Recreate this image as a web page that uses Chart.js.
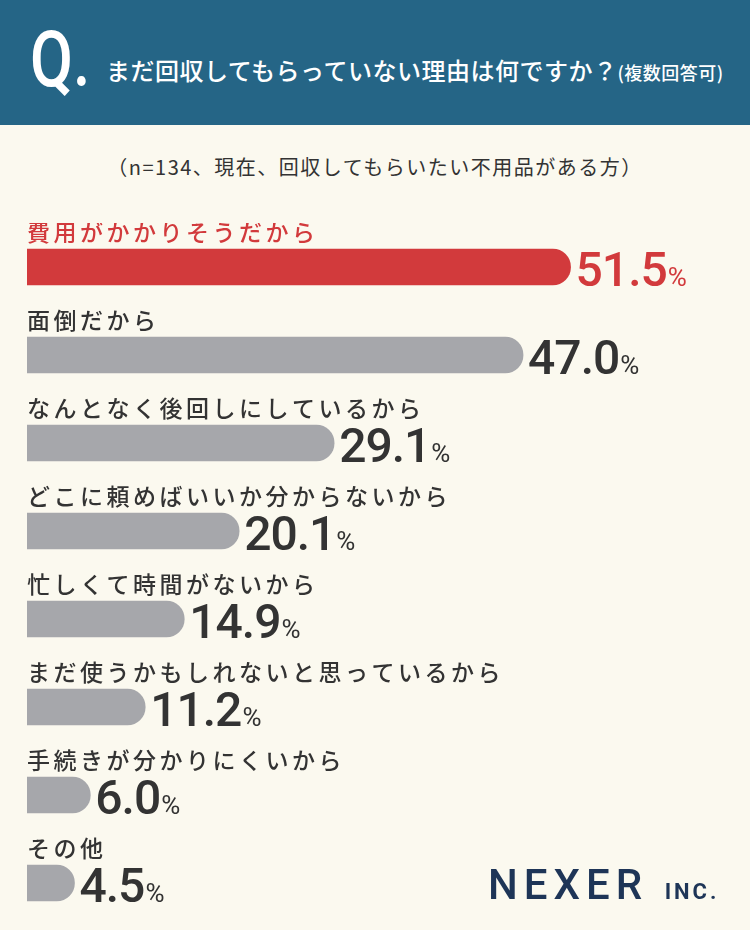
<!DOCTYPE html>
<html><head><meta charset="utf-8">
<script src="https://cdn.jsdelivr.net/npm/chart.js@4"></script>
<style>
body{margin:0;width:750px;height:930px;background:#fbf9ef;position:relative;overflow:hidden;font-family:"Noto Sans CJK JP",sans-serif}
#head{position:absolute;left:0;top:0;width:750px;height:125px;background:#256586;color:#fff}
#q{position:absolute;left:30px;top:14px;font:500 78px "Roboto",sans-serif;transform:scaleX(0.8);transform-origin:left}
#qt{position:absolute;left:106px;top:52px;font-size:24px;font-weight:500;letter-spacing:0.5px}
#qt small{font-size:18px}
#sub{position:absolute;left:0;width:750px;top:152px;text-align:center;font-size:20px;color:#333;letter-spacing:1.5px}
#wrap{position:absolute;left:0;top:223px;width:750px;height:704px}
#logo{position:absolute;left:488px;top:860px;font:500 42px "Roboto",sans-serif;color:#1e3557;letter-spacing:6px}
#logo span{font-size:22px;font-weight:bold;letter-spacing:3px}
</style></head><body>
<div id="head"><div id="q">Q.</div><div id="qt">まだ回収してもらっていない理由は何ですか？<small>(複数回答可)</small></div></div>
<div id="sub">（n=134、現在、回収してもらいたい不用品がある方）</div>
<div id="wrap"><canvas id="c"></canvas></div>
<div id="logo">NEXER <span>INC.</span></div>
<script>
const categories = ['費用がかかりそうだから','面倒だから','なんとなく後回しにしているから','どこに頼めばいいか分からないから','忙しくて時間がないから','まだ使うかもしれないと思っているから','手続きが分かりにくいから','その他'];
const values = [51.5, 47.0, 29.1, 20.1, 14.9, 11.2, 6.0, 4.5];
const colors = values.map((v, i) => i === 0 ? '#d23a3c' : '#a6a7ab');
const textColors = values.map((v, i) => i === 0 ? '#d23a3c' : '#333333');

const labelPlugin = {
  id: 'labels',
  afterDatasetsDraw(chart) {
    const ctx = chart.ctx;
    const meta = chart.getDatasetMeta(0);
    meta.data.forEach((bar, i) => {
      ctx.save();
      ctx.fillStyle = textColors[i];
      ctx.textBaseline = 'alphabetic';
      ctx.letterSpacing = '3.5px';
      ctx.font = '500 23px "Noto Sans CJK JP"';
      ctx.fillText(categories[i], 27, bar.y - 26);
      ctx.letterSpacing = '-1px';
      ctx.font = '500 48px "Roboto"';
      const num = values[i].toFixed(1);
      const x = bar.x + 5;
      ctx.fillText(num, x, bar.y + 19);
      const w = ctx.measureText(num).width;
      ctx.letterSpacing = '0px';
      ctx.font = '400 26px "Roboto"';
      ctx.fillText('%', x + w + 1, bar.y + 19);
      ctx.restore();
    });
  }
};

new Chart(document.getElementById('c'), {
  type: 'bar',
  data: { labels: categories, datasets: [{ data: values, backgroundColor: colors, barThickness: 36,
    borderRadius: { topRight: 18, bottomRight: 18 }, borderSkipped: 'left' }] },
  options: {
    indexAxis: 'y', responsive: true, maintainAspectRatio: false, animation: false,
    layout: { padding: { left: 27, right: 0, top: 0, bottom: 0 } },
    plugins: { legend: { display: false }, tooltip: { enabled: false } },
    scales: {
      x: { min: 0, max: 68.5, display: false },
      y: { display: false }
    }
  },
  plugins: [labelPlugin]
});
</script>
</body></html>
